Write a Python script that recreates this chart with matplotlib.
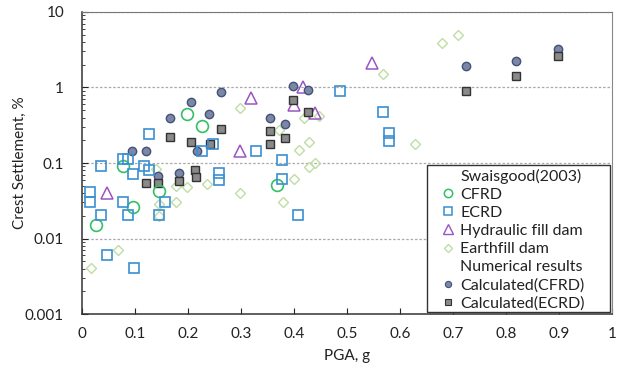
import matplotlib
matplotlib.use("Agg")
import matplotlib.pyplot as plt
from matplotlib.lines import Line2D
from matplotlib.patches import Rectangle
from matplotlib.ticker import FuncFormatter, LogLocator, NullFormatter, MultipleLocator

plt.rcParams['font.family'] = ['Lato', 'DejaVu Sans']

# Swaisgood (2003) case histories
cfrd_pga = [0.077, 0.198, 0.227, 0.146, 0.096, 0.026, 0.367]
cfrd_set = [0.091, 0.445, 0.311, 0.042, 0.0265, 0.0152, 0.0515]

ecrd_pga = [0.036, 0.077, 0.086, 0.096, 0.117, 0.127, 0.127, 0.227, 0.247, 0.015,
            0.015, 0.036, 0.078, 0.087, 0.146, 0.157, 0.047, 0.097, 0.258, 0.258,
            0.328, 0.378, 0.378, 0.408, 0.487, 0.568, 0.579, 0.579]
ecrd_set = [0.092, 0.112, 0.113, 0.072, 0.091, 0.082, 0.242, 0.145, 0.178, 0.041,
            0.030, 0.0206, 0.030, 0.0206, 0.0206, 0.030, 0.0060, 0.0041, 0.074, 0.060,
            0.144, 0.111, 0.0615, 0.0206, 0.90, 0.48, 0.249, 0.195]

hyd_pga = [0.047, 0.298, 0.318, 0.400, 0.417, 0.440, 0.548]
hyd_set = [0.040, 0.144, 0.73, 0.59, 1.01, 0.456, 2.12]

earth_pga = [0.016, 0.068, 0.140, 0.178, 0.198, 0.236, 0.146, 0.178, 0.146, 0.298,
             0.298, 0.371, 0.379, 0.399, 0.410, 0.428, 0.428, 0.440, 0.418, 0.448,
             0.568, 0.628, 0.679, 0.710]
earth_set = [0.0041, 0.0071, 0.084, 0.050, 0.048, 0.052, 0.029, 0.030, 0.0198, 0.040,
             0.53, 0.271, 0.030, 0.0605, 0.150, 0.187, 0.088, 0.101, 0.397, 0.416,
             1.53, 0.180, 3.84, 4.95]

# numerical results
calc_cfrd_pga = [0.094, 0.120, 0.165, 0.206, 0.216, 0.240, 0.262, 0.143, 0.183,
                 0.354, 0.382, 0.398, 0.426, 0.725, 0.819, 0.898]
calc_cfrd_set = [0.144, 0.143, 0.40, 0.65, 0.144, 0.45, 0.875, 0.068, 0.073,
                 0.40, 0.326, 1.04, 0.93, 1.92, 2.25, 3.23]

calc_ecrd_pga = [0.120, 0.144, 0.183, 0.213, 0.215, 0.166, 0.206, 0.242, 0.262,
                 0.354, 0.354, 0.382, 0.398, 0.426, 0.725, 0.819, 0.898]
calc_ecrd_set = [0.0545, 0.0545, 0.0578, 0.082, 0.065, 0.221, 0.19, 0.177, 0.282,
                 0.267, 0.177, 0.212, 0.69, 0.48, 0.91, 1.44, 2.6]

fig, ax = plt.subplots(figsize=(6.27, 3.73), dpi=100)
fig.subplots_adjust(left=0.131, right=0.976, top=0.968, bottom=0.158)

green = '#34c064'
blue = '#3b8fd2'
purple = '#9a55c4'
lgreen = '#bfdea4'

ax.plot(earth_pga, earth_set, 'D', ms=5.2, mfc='none', mec=lgreen, mew=1.0, zorder=3)
ax.plot(hyd_pga, hyd_set, '^', ms=9, mfc='none', mec=purple, mew=1.1, zorder=3)
ax.plot(calc_cfrd_pga, calc_cfrd_set, 'o', ms=6, mfc='#7c87a6', mec='#44527a', mew=1.0, zorder=4)
ax.plot(calc_ecrd_pga, calc_ecrd_set, 's', ms=6, mfc='#8a8a8a', mec='#333333', mew=1.0, zorder=5)
ax.plot(cfrd_pga, cfrd_set, 'o', ms=8.5, mfc='none', mec=green, mew=1.2, zorder=6)
ax.plot(ecrd_pga, ecrd_set, 's', ms=7.5, mfc='none', mec=blue, mew=1.2, zorder=6)

ax.set_xlim(0, 1)
ax.set_ylim(0.001, 10)
ax.set_yscale('log')
ax.xaxis.set_major_locator(MultipleLocator(0.1))
ax.xaxis.set_major_formatter(FuncFormatter(lambda v, p: '%g' % round(v, 1)))
ax.yaxis.set_major_locator(LogLocator(base=10, numticks=10))
ax.yaxis.set_minor_locator(LogLocator(base=10, subs=range(2, 10), numticks=20))
ax.yaxis.set_major_formatter(FuncFormatter(lambda v, p: '%g' % v))
ax.yaxis.set_minor_formatter(NullFormatter())

ax.tick_params(axis='both', which='major', direction='in', length=4, width=0.8,
               labelsize=11, colors='#222222')
ax.tick_params(axis='x', which='major', pad=9)
ax.tick_params(axis='y', which='major', pad=13)
ax.tick_params(axis='y', which='minor', direction='in', length=2.5, width=0.6, colors='#222222')
ax.tick_params(axis='x', which='minor', bottom=False)

for y in [0.01, 0.1, 1, 10]:
    ax.axhline(y, color='#aaaaaa', lw=0.9, ls=(0, (2, 1.5)), zorder=1)

ax.spines['left'].set_color('#333333')
ax.spines['bottom'].set_color('#333333')
ax.spines['left'].set_linewidth(1.1)
ax.spines['bottom'].set_linewidth(1.1)
ax.spines['top'].set_color('#777777')
ax.spines['right'].set_color('#888888')

ax.set_xlabel('PGA, g', fontsize=11, color='#222222', labelpad=6)
ax.set_ylabel('Crest Settlement, %', fontsize=11, color='#222222')
ax.yaxis.set_label_coords(-0.104, 0.5)

# legend box drawn by hand so the inner padding can be set freely
ax.add_patch(Rectangle((0.651, 0.007), 0.345, 0.486, transform=ax.transAxes,
                       facecolor='white', edgecolor='#333333', lw=1.0, zorder=8))

blank = Line2D([], [], linestyle='none')
handles = [
    blank,
    Line2D([], [], ls='none', marker='o', ms=6, mfc='none', mec=green, mew=1.1),
    Line2D([], [], ls='none', marker='s', ms=5.5, mfc='none', mec=blue, mew=1.1),
    Line2D([], [], ls='none', marker='^', ms=6.5, mfc='none', mec=purple, mew=1.0),
    Line2D([], [], ls='none', marker='D', ms=4.5, mfc='none', mec=lgreen, mew=1.0),
    blank,
    Line2D([], [], ls='none', marker='o', ms=4.5, mfc='#7c87a6', mec='#44527a', mew=0.8),
    Line2D([], [], ls='none', marker='s', ms=4.5, mfc='#8a8a8a', mec='#333333', mew=0.8),
]
labels = ['Swaisgood(2003)', 'CFRD', 'ECRD', 'Hydraulic fill dam', 'Earthfill dam',
          'Numerical results', 'Calculated(CFRD)', 'Calculated(ECRD)']
leg = ax.legend(handles, labels, loc='upper left', bbox_to_anchor=(0.679, 0.482),
                borderaxespad=0, borderpad=0, fontsize=11.5, frameon=False,
                handlelength=0.8, handletextpad=0.35, labelspacing=0.25)
leg.set_zorder(9)
for t in leg.get_texts():
    t.set_color('#222222')

fig.savefig('out.png', dpi=100)
